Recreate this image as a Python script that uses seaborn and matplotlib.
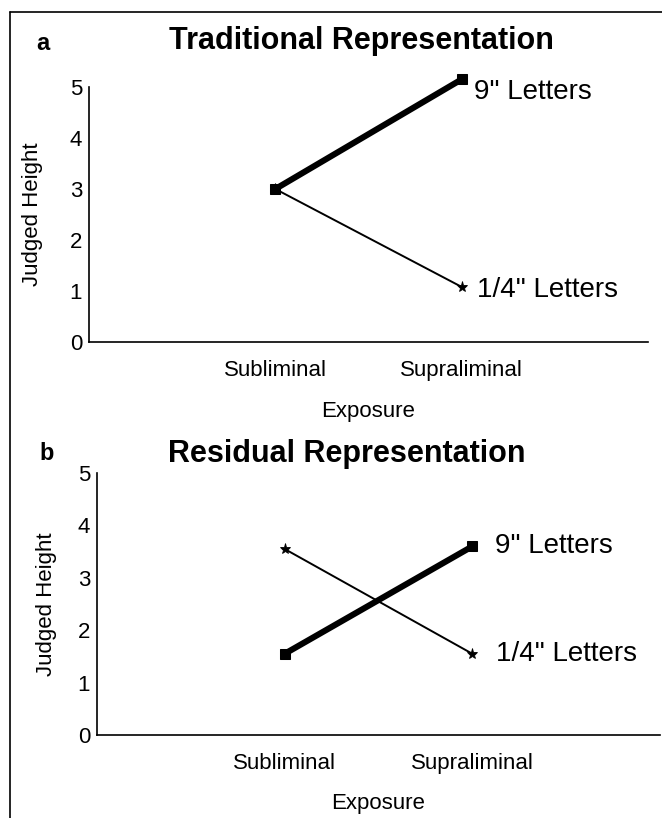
import matplotlib
matplotlib.use("Agg")
import matplotlib.pyplot as plt
import seaborn as sns
import pandas as pd
from matplotlib.lines import Line2D

# data
exposure = ["Subliminal", "Supraliminal"]
trad_9in = [3.0, 5.15]
trad_quarter = [3.0, 1.08]
resid_9in = [1.55, 3.6]
resid_quarter = [3.55, 1.55]
yticks = [0, 1, 2, 3, 4, 5]

W, H = 662, 818

sns.set_style("white", rc={"text.color": "black", "axes.labelcolor": "black",
                           "xtick.color": "black", "ytick.color": "black"})
plt.rcParams['font.family'] = ['Liberation Sans', 'DejaVu Sans']

fig = plt.figure(figsize=(W / 100, H / 100), dpi=100)


def px_box(left, top, right, bottom):
    return [left / W, 1 - bottom / H, (right - left) / W, (bottom - top) / H]


def draw_panel(ax, nine, quarter, off9, offq, ylabelpad):
    df9 = pd.DataFrame({"Exposure": exposure, "Judged Height": nine})
    dfq = pd.DataFrame({"Exposure": exposure, "Judged Height": quarter})
    sns.lineplot(data=dfq, x="Exposure", y="Judged Height", ax=ax, color="black",
                 linewidth=1.4, marker="*", markersize=8, markeredgewidth=0.6,
                 markeredgecolor="black")
    sns.lineplot(data=df9, x="Exposure", y="Judged Height", ax=ax, color="black",
                 linewidth=4.4, marker="s", markersize=6.5, markeredgecolor="black")
    for ln in ax.lines:
        ln.set_clip_on(False)
    ax.set_xlim(-1, 2)
    ax.set_ylim(0, 5)
    ax.set_yticks(yticks)
    ax.tick_params(axis="both", length=0, labelsize=16)
    ax.tick_params(axis="x", pad=13)
    ax.tick_params(axis="y", pad=5)
    sns.despine(ax=ax)
    for s in ["left", "bottom"]:
        ax.spines[s].set_color("black")
        ax.spines[s].set_linewidth(1.2)
    ax.set_xlabel("Exposure", fontsize=16, labelpad=14)
    ax.set_ylabel("Judged Height", fontsize=16, labelpad=ylabelpad)
    ax.annotate('9" Letters', (1, nine[1]), xytext=off9, textcoords="offset points",
                fontsize=20, va="center", ha="left", annotation_clip=False)
    ax.annotate('1/4" Letters', (1, quarter[1]), xytext=offq, textcoords="offset points",
                fontsize=20, va="center", ha="left", annotation_clip=False)


ax_a = fig.add_axes(px_box(89, 87, 648, 342))
draw_panel(ax_a, trad_9in, trad_quarter, (9, -9), (11, -2), 19)

ax_b = fig.add_axes(px_box(97, 473, 660, 735))
draw_panel(ax_b, resid_9in, resid_quarter, (16, 0), (17, 0), 15)

# titles and panel letters
fig.text(361 / W, 1 - 49 / H, "Traditional Representation", fontsize=22,
         fontweight="bold", ha="center", va="baseline")
fig.text(347 / W, 1 - 462 / H, "Residual Representation", fontsize=22,
         fontweight="bold", ha="center", va="baseline")
fig.text(43 / W, 1 - 50 / H, "a", fontsize=17, fontweight="bold", ha="center", va="baseline")
fig.text(47 / W, 1 - 460 / H, "b", fontsize=17, fontweight="bold", ha="center", va="baseline")

# box edges of the scanned figure
fig.add_artist(Line2D([10 / W, 1], [1 - 12 / H, 1 - 12 / H], color="black", linewidth=1.2))
fig.add_artist(Line2D([10 / W, 10 / W], [1 - 12 / H, 0], color="black", linewidth=1.2))

fig.savefig("out.png", dpi=100)
